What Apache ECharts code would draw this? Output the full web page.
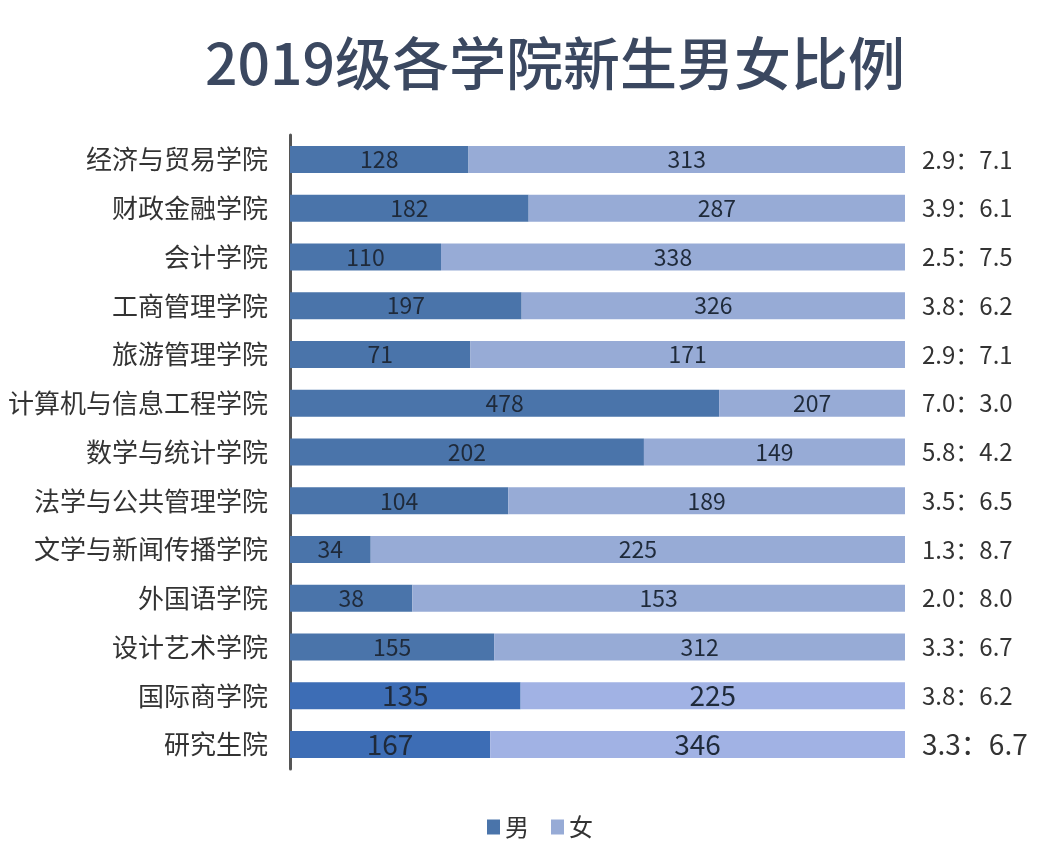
<!DOCTYPE html>
<html><head><meta charset="utf-8">
<script src="https://cdn.jsdelivr.net/npm/echarts@6/dist/echarts.min.js"></script>
<style>html,body{margin:0;padding:0;background:#fff}#c{width:1042px;height:858px}</style>
</head><body><div id="c"></div>
<script>
const categories = ['经济与贸易学院','财政金融学院','会计学院','工商管理学院','旅游管理学院','计算机与信息工程学院','数学与统计学院','法学与公共管理学院','文学与新闻传播学院','外国语学院','设计艺术学院','国际商学院','研究生院'];
const male = [128,182,110,197,71,478,202,104,34,38,155,135,167];
const female = [313,287,338,326,171,207,149,189,225,153,312,225,346];
const ratioLabels = ['2.9：7.1','3.9：6.1','2.5：7.5','3.8：6.2','2.9：7.1','7.0：3.0','5.8：4.2','3.5：6.5','1.3：8.7','2.0：8.0','3.3：6.7','3.8：6.2','3.3：6.7'];

const FONT = '"Noto Sans CJK SC","Noto Sans",sans-serif';
const maleColor = '#4a74aa', femaleColor = '#97abd6';
const maleColor2 = '#3d6db5', femaleColor2 = '#a1b2e4';

function build(vals, isMale) {
  return vals.map((v, i) => {
    const tot = male[i] + female[i];
    const big = i >= 11;
    return {
      value: v / tot * 100,
      count: v,
      itemStyle: { color: big ? (isMale ? maleColor2 : femaleColor2) : (isMale ? maleColor : femaleColor) },
      label: { fontSize: big ? 28 : 23 }
    };
  });
}

const chart = echarts.init(document.getElementById('c'));
chart.setOption({
  animation: false,
  textStyle: { fontFamily: FONT },
  title: {
    text: '2019级各学院新生男女比例',
    left: 200, top: 30,
    textStyle: { fontSize: 57, fontWeight: 500, color: '#3b4860', fontFamily: FONT }
  },
  legend: {
    bottom: 14, left: 482,
    itemWidth: 13, itemHeight: 15, itemGap: 22,
    icon: 'rect',
    textStyle: { fontSize: 24, color: '#333', fontFamily: FONT },
    data: ['男', '女']
  },
  grid: { left: 290, right: 137, top: 135, bottom: 89, containLabel: false },
  xAxis: { type: 'value', min: 0, max: 100, show: false },
  yAxis: [{
    type: 'category', inverse: true, data: categories,
    axisLine: { show: true, lineStyle: { color: '#555', width: 3 } },
    axisTick: { show: false },
    axisLabel: { fontSize: 26, color: '#333', margin: 22, fontFamily: FONT }
  }, {
    type: 'category', inverse: true, position: 'right', data: ratioLabels,
    axisLine: { show: false }, axisTick: { show: false },
    axisLabel: {
      margin: 17, align: 'left', color: '#333', fontFamily: FONT,
      formatter: (v, i) => i === 12 ? '{b|' + v + '}' : '{a|' + v + '}',
      rich: { a: { fontSize: 24, color: '#333', fontFamily: FONT }, b: { fontSize: 28, color: '#333', fontFamily: FONT } }
    }
  }],
  series: [{
    name: '男', type: 'bar', stack: 't', barWidth: 27,
    itemStyle: { color: maleColor },
    label: { show: true, position: 'inside', color: '#1f2a3a', fontFamily: FONT, formatter: p => p.data.count },
    data: build(male, true)
  }, {
    name: '女', type: 'bar', stack: 't', barWidth: 27,
    itemStyle: { color: femaleColor },
    label: { show: true, position: 'inside', color: '#1f2a3a', fontFamily: FONT, formatter: p => p.data.count },
    data: build(female, false)
  }]
});
</script></body></html>
